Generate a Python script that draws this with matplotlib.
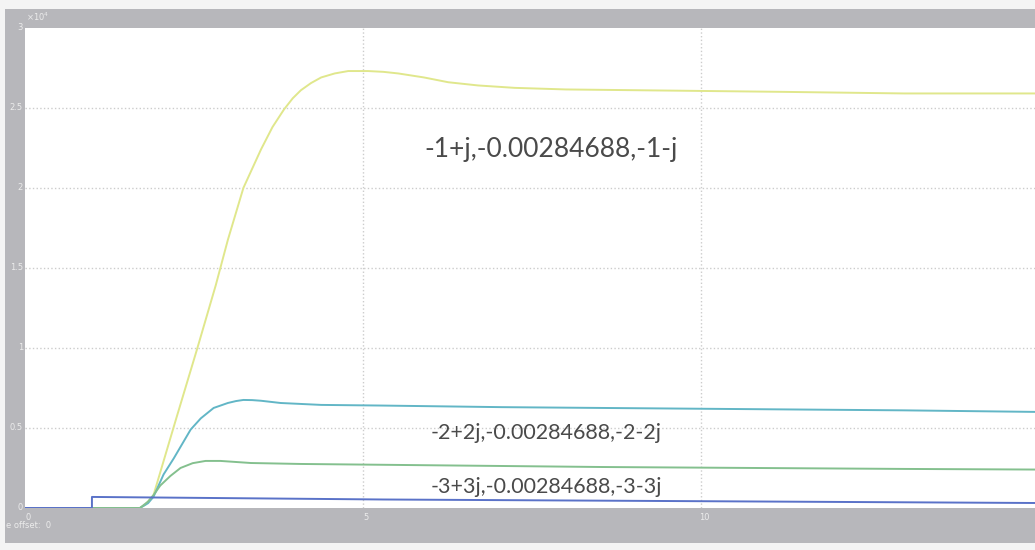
import matplotlib.pyplot as plt
from matplotlib.patches import Rectangle

# step input (blue)
step_t = [0, 0.99, 0.99, 5.3, 15]
step_v = [0, 0, 0.069, 0.053, 0.031]

# poles -1+-j (yellow)
y1_t = [0, 1.70, 1.78, 1.90, 2.23, 2.55, 2.82, 3.00, 3.23, 3.49, 3.66, 3.83, 3.96, 4.08,
        4.23, 4.38, 4.58, 4.78, 5.07, 5.30, 5.52, 5.90, 6.26, 6.70, 7.24, 8.0, 9.08,
        11.2, 13.0, 15.0]
y1_v = [0, 0, 0.02, 0.08, 0.55, 1.00, 1.39, 1.675, 2.00, 2.24, 2.38, 2.49, 2.56, 2.61,
        2.655, 2.69, 2.715, 2.73, 2.73, 2.725, 2.715, 2.69, 2.66, 2.64, 2.625, 2.615,
        2.61, 2.60, 2.59, 2.59]

# poles -2+-2j (cyan)
y2_t = [0, 1.70, 1.82, 1.90, 2.05, 2.20, 2.45, 2.60, 2.79, 3.00, 3.12, 3.23, 3.36, 3.49,
        3.78, 4.38, 5.27, 7.05, 10.0, 13.0, 15.0]
y2_v = [0, 0, 0.03, 0.07, 0.21, 0.31, 0.49, 0.56, 0.625, 0.656, 0.668, 0.675, 0.674,
        0.67, 0.656, 0.644, 0.64, 0.63, 0.62, 0.61, 0.60]

# poles -3+-3j (green)
y3_t = [0, 1.70, 1.82, 1.90, 2.00, 2.15, 2.30, 2.48, 2.67, 2.89, 3.34, 4.08, 5.27,
        8.53, 13.0, 15.0]
y3_v = [0, 0, 0.04, 0.08, 0.14, 0.20, 0.25, 0.28, 0.294, 0.294, 0.281, 0.275, 0.27,
        0.256, 0.244, 0.24]

labels = ['-1+j,-0.00284688,-1-j', '-2+2j,-0.00284688,-2-2j', '-3+3j,-0.00284688,-3-3j']
label_pos = [(5.9, 2.24), (6.0, 0.47), (6.0, 0.13)]
label_size = [19, 15.5, 15.5]

yticks = [0, 0.5, 1, 1.5, 2, 2.5, 3]
ytick_labels = ['0', '0.5', '1', '1.5', '2', '2.5', '3']
xticks = [0, 5, 10]

fig = plt.figure(figsize=(10.35, 5.5), dpi=100)
fig.patch.set_facecolor('#f4f4f4')

# gray scope frame, behind the axes
frame = Rectangle((0.005, 0.013), 1.0, 0.97, transform=fig.transFigure,
                  facecolor='#b7b7bb', edgecolor='none', zorder=-10)
fig.patches.append(frame)

ax = fig.add_axes([0.02415, 0.0764, 0.98, 0.873])
ax.set_zorder(5)
ax.set_facecolor('white')
ax.set_xlim(0, 15)
ax.set_ylim(0, 3)

for v in yticks[1:-1]:
    ax.axhline(v, color='#cccccc', linestyle=':', linewidth=1)
for t in xticks[1:]:
    ax.axvline(t, color='#cccccc', linestyle=':', linewidth=1)

ax.plot(y1_t, y1_v, color='#e0e78c', linewidth=1.4)
ax.plot(y2_t, y2_v, color='#62b6c6', linewidth=1.4)
ax.plot(y3_t, y3_v, color='#84c08e', linewidth=1.4)
ax.plot(step_t, step_v, color='#5a72c8', linewidth=1.4)

for txt, (tx, ty), fs in zip(labels, label_pos, label_size):
    ax.text(tx, ty, txt, fontsize=fs, color='#4a4a4a', family='Lato',
            ha='left', va='center')

ax.set_xticks([])
ax.set_yticks([])
for s in ax.spines.values():
    s.set_visible(False)

# scope style tick labels in the gray frame
for v, lab in zip(yticks, ytick_labels):
    ax.text(-0.03, v, lab, fontsize=6, color='#ececec', ha='right', va='center', clip_on=False)
for t in xticks:
    ax.text(t + 0.05, -0.03, str(t), fontsize=6, color='#ececec', ha='center', va='top', clip_on=False)
ax.text(0.02, 3.03, r'$\times10^{4}$', fontsize=6, color='#ececec', ha='left', va='bottom', clip_on=False)
fig.text(0.006, 0.045, 'e offset:  0', fontsize=6, color='#ececec', ha='left', va='center')

fig.savefig('out.png', dpi=100, facecolor=fig.get_facecolor())
